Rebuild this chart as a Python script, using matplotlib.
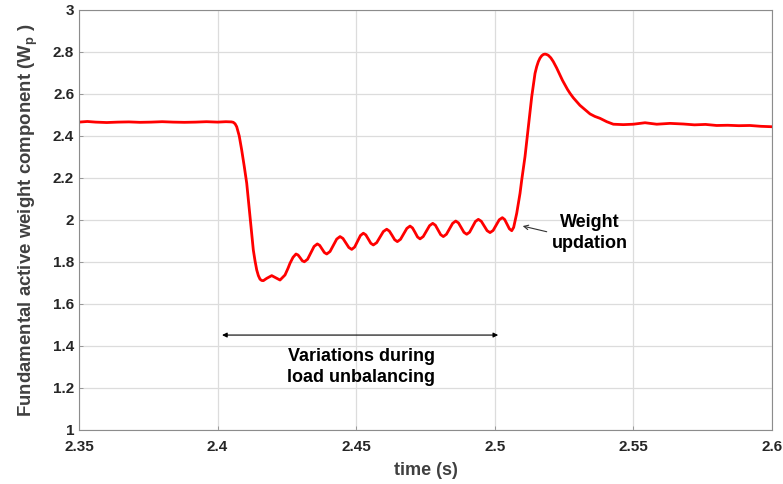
import matplotlib
matplotlib.use("Agg")
import matplotlib.pyplot as plt

plt.rcParams['font.family'] = ['Liberation Sans', 'DejaVu Sans']
plt.rcParams['mathtext.fontset'] = 'custom'
plt.rcParams['mathtext.rm'] = 'Liberation Sans'
plt.rcParams['mathtext.bf'] = 'Liberation Sans:bold'

# ---- data ----
time_s = [
    2.3500, 2.3530, 2.3560, 2.3600, 2.3640, 2.3680, 2.3720, 2.3760, 2.3800, 2.3840,
    2.3880, 2.3920, 2.3960, 2.4000, 2.4030, 2.4050, 2.40566, 2.40630, 2.40689, 2.40780,
    2.40869, 2.40960, 2.41050,
    2.41169, 2.41288, 2.41350, 2.41411, 2.41470, 2.41530, 2.41590, 2.41649, 2.41771,
    2.41952, 2.42132, 2.42251,
    2.42431, 2.42540, 2.42612, 2.42720, 2.42828,
    2.42903, 2.42978, 2.43053, 2.43128,
    2.43245, 2.43363, 2.43480, 2.43597,
    2.43682, 2.43767, 2.43851, 2.43936,
    2.44056, 2.44176, 2.44296, 2.44416,
    2.44522, 2.44627, 2.44733, 2.44838,
    2.44943, 2.45048, 2.45152, 2.45257,
    2.45347, 2.45437, 2.45527, 2.45617,
    2.45738, 2.45859, 2.45979, 2.46100,
    2.46196, 2.46292, 2.46387, 2.46483,
    2.46598, 2.46712, 2.46827, 2.46941,
    2.47031, 2.47122, 2.47212, 2.47302,
    2.47417, 2.47531, 2.47646, 2.47760,
    2.47856, 2.47951, 2.48047, 2.48142,
    2.48254, 2.48366, 2.48478, 2.48590,
    2.48689, 2.48788, 2.48887, 2.48986,
    2.49091, 2.49196, 2.49300, 2.49405,
    2.49511, 2.49616, 2.49722, 2.49827,
    2.49938, 2.50049, 2.50160, 2.50271,
    2.50356, 2.50441, 2.50525, 2.50610,
    2.50680, 2.50790, 2.50909, 2.50970, 2.51089, 2.51209, 2.51331, 2.51450,
    2.51510, 2.51569, 2.51630, 2.51692, 2.51750, 2.51811, 2.51870, 2.51930,
    2.52020, 2.52110, 2.52230, 2.52352, 2.52440, 2.52532, 2.52620, 2.52713,
    2.52830, 2.52955, 2.53070, 2.53193, 2.53310, 2.53434, 2.53610, 2.53795,
    2.54037, 2.54275, 2.54636, 2.54996,
    2.55418, 2.55841, 2.56320, 2.56800, 2.5720, 2.5760, 2.5800, 2.5840,
    2.5880, 2.5920, 2.5960, 2.6000,
]
weight_wp = [
    2.466, 2.469, 2.466, 2.464, 2.466, 2.467, 2.465, 2.466, 2.468, 2.466,
    2.465, 2.466, 2.468, 2.466, 2.468, 2.467, 2.465, 2.458, 2.444, 2.400,
    2.333, 2.256, 2.175,
    2.016, 1.857, 1.805, 1.762, 1.735, 1.718, 1.712, 1.711, 1.722,
    1.735, 1.722, 1.714,
    1.738, 1.770, 1.794, 1.822, 1.838,
    1.833, 1.820, 1.806, 1.801,
    1.813, 1.844, 1.874, 1.886,
    1.879, 1.862, 1.845, 1.838,
    1.850, 1.880, 1.909, 1.921,
    1.912, 1.891, 1.869, 1.860,
    1.871, 1.899, 1.926, 1.937,
    1.929, 1.909, 1.889, 1.881,
    1.892, 1.919, 1.945, 1.956,
    1.947, 1.927, 1.906, 1.897,
    1.908, 1.934, 1.960, 1.971,
    1.962, 1.941, 1.919, 1.910,
    1.921, 1.947, 1.973, 1.984,
    1.975, 1.953, 1.930, 1.921,
    1.932, 1.958, 1.984, 1.995,
    1.986, 1.964, 1.941, 1.932,
    1.942, 1.968, 1.993, 2.003,
    1.994, 1.972, 1.949, 1.940,
    1.950, 1.976, 2.001, 2.011,
    2.002, 1.980, 1.958, 1.949,
    1.965, 2.032, 2.127, 2.190, 2.302, 2.444, 2.587, 2.698,
    2.730, 2.754, 2.771, 2.782, 2.788, 2.790, 2.788, 2.784,
    2.772, 2.754, 2.724, 2.690, 2.665, 2.643, 2.622, 2.603,
    2.582, 2.563, 2.546, 2.532, 2.518, 2.505, 2.493, 2.484,
    2.468, 2.456, 2.454, 2.456,
    2.463, 2.456, 2.460, 2.457, 2.453, 2.455, 2.450, 2.451,
    2.449, 2.450, 2.446, 2.444,
]
x_ticks = [2.35, 2.4, 2.45, 2.5, 2.55, 2.6]
x_ticklabels = ['2.35', '2.4', '2.45', '2.5', '2.55', '2.6']
y_ticks = [1, 1.2, 1.4, 1.6, 1.8, 2, 2.2, 2.4, 2.6, 2.8, 3]
y_ticklabels = ['1', '1.2', '1.4', '1.6', '1.8', '2', '2.2', '2.4', '2.6', '2.8', '3']

span_start, span_end, span_level = 2.4016, 2.5012, 1.452
span_text = "Variations during\nload unbalancing"
update_tip = (2.51006, 1.971)
update_tail = (2.51872, 1.944)
update_text_pos = (2.5343, 1.938)
update_text = "Weight\nupdation"

# ---- figure ----
fig = plt.figure(figsize=(7.83, 4.84), dpi=100)
ax = fig.add_axes([0.1009, 0.1116, 0.8851, 0.8678])

ax.plot(time_s, weight_wp, color='#ff0000', lw=2.0, solid_joinstyle='round')

ax.set_xlim(2.35, 2.6)
ax.set_ylim(1, 3)
ax.set_xticks(x_ticks)
ax.set_xticklabels(x_ticklabels)
ax.set_yticks(y_ticks)
ax.set_yticklabels(y_ticklabels)

tick_color = '#262626'
for lab in ax.get_xticklabels() + ax.get_yticklabels():
    lab.set_fontweight('bold')
    lab.set_fontsize(11)
    lab.set_color(tick_color)
ax.tick_params(direction='in', length=3, width=0.6, colors='#8c8c8c',
               labelcolor=tick_color)
ax.tick_params(axis='y', pad=3.5)
ax.tick_params(axis='x', pad=7)

ax.grid(True, color='#dcdcdc', lw=0.9)
ax.set_axisbelow(True)
for sp in ax.spines.values():
    sp.set_color('#8c8c8c')
    sp.set_linewidth(0.8)

ax.set_xlabel('time (s)', fontsize=13, fontweight='bold', color='#404040', labelpad=6)
ax.set_ylabel(r'Fundamental active weight component (W$_\mathbf{p}$ )',
              fontsize=13.4, fontweight='bold', color='#404040', labelpad=9)

ax.annotate('', xy=(span_start, span_level), xytext=(span_end, span_level),
            arrowprops=dict(arrowstyle='<|-|>', color='black', lw=0.8,
                            mutation_scale=7, shrinkA=0, shrinkB=0))
ax.text((span_start + span_end) / 2 + 0.0005, 1.30, span_text, ha='center', va='center',
        fontsize=13, fontweight='bold', color='black', linespacing=1.25)

ax.annotate('', xy=update_tip, xytext=update_tail,
            arrowprops=dict(arrowstyle='->', color='#333333', lw=0.8,
                            mutation_scale=8, shrinkA=0, shrinkB=0))
ax.text(update_text_pos[0], update_text_pos[1], update_text, ha='center', va='center',
        fontsize=13, fontweight='bold', color='black', linespacing=1.25)

fig.savefig('out.png', dpi=100)
